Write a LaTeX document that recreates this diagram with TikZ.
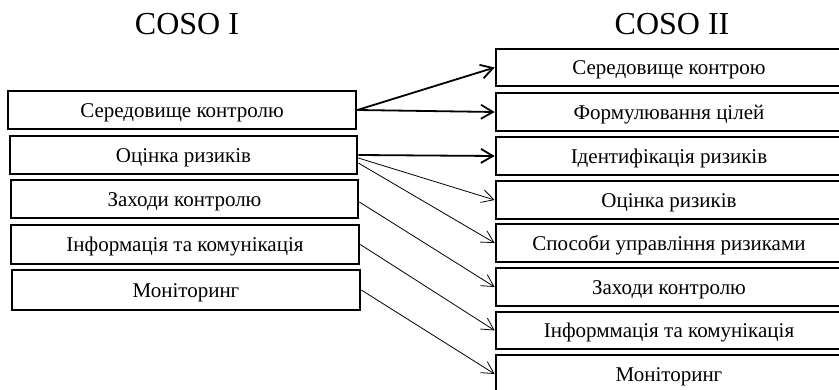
\documentclass[tikz,border=0pt]{standalone}
\usepackage{fontspec}
\setmainfont{Liberation Serif}
\usetikzlibrary{arrows.meta}
\begin{document}
\begin{tikzpicture}[x=1pt,y=-1pt,
  box/.style={draw, line width=2.6pt, rectangle, inner sep=0pt, minimum height=38pt, text height=15pt, text depth=0pt, font=\fontsize{21}{21}\selectfont},
  title/.style={font=\fontsize{32}{32}\selectfont},
  thickarr/.style={line width=1.8pt, -{Straight Barb[length=12pt,width=14pt,line width=1.8pt]}},
  thinarr/.style={line width=0.8pt, -{Straight Barb[length=12pt,width=13pt,line width=0.8pt]}}]
\useasboundingbox (0,0) rectangle (839,390);
\node[title] (t1) at (187,24) {COSO I};
\node[title] (t2) at (672,24) {COSO II};
% left boxes
\node[box, minimum width=348pt] (l1) at (182,110) {Середовище контролю};
\node[box, minimum width=347pt] (l2) at (183.5,155) {Оцінка ризиків};
\node[box, minimum width=347pt] (l3) at (184.5,199) {Заходи контролю};
\node[box, minimum width=348pt, minimum height=39pt] (l4) at (185,244.5) {Інформація та комунікація};
\node[box, minimum width=348pt, minimum height=40pt] (l5) at (186,290) {Моніторинг};
% right boxes
\node[box, minimum width=346pt, minimum height=37pt] (r1) at (669,67.5) {Середовище контрою};
\node[box, minimum width=346pt] (r2) at (669,112) {Формулювання цілей};
\node[box, minimum width=346pt] (r3) at (669,156) {Ідентифікація ризиків};
\node[box, minimum width=346pt] (r4) at (669,200) {Оцінка ризиків};
\node[box, minimum width=346pt] (r5) at (669,243) {Способи управління ризиками};
\node[box, minimum width=346pt] (r6) at (669,287) {Заходи контролю};
\node[box, minimum width=346pt, minimum height=37pt] (r7) at (669,330.5) {Інформмація та комунікація};
\node[box, minimum width=346pt] (r8) at (669,374) {Моніторинг};
% connectors
\draw[thickarr] (l1.east) -- (r1.west);
\draw[thickarr] (l1.east) -- (r2.west);
\draw[thickarr] (l2.east) -- (r3.west);
\draw[thinarr] ([yshift=-3pt]l2.east) -- (r4.west);
\draw[thinarr] ([yshift=-8pt]l2.east) -- (r5.west);
\draw[thinarr] ([yshift=-3pt]l3.east) -- (r6.west);
\draw[thinarr] (l4.east) -- (r7.west);
\draw[thinarr] (l5.east) -- (r8.west);
\end{tikzpicture}
\end{document}
